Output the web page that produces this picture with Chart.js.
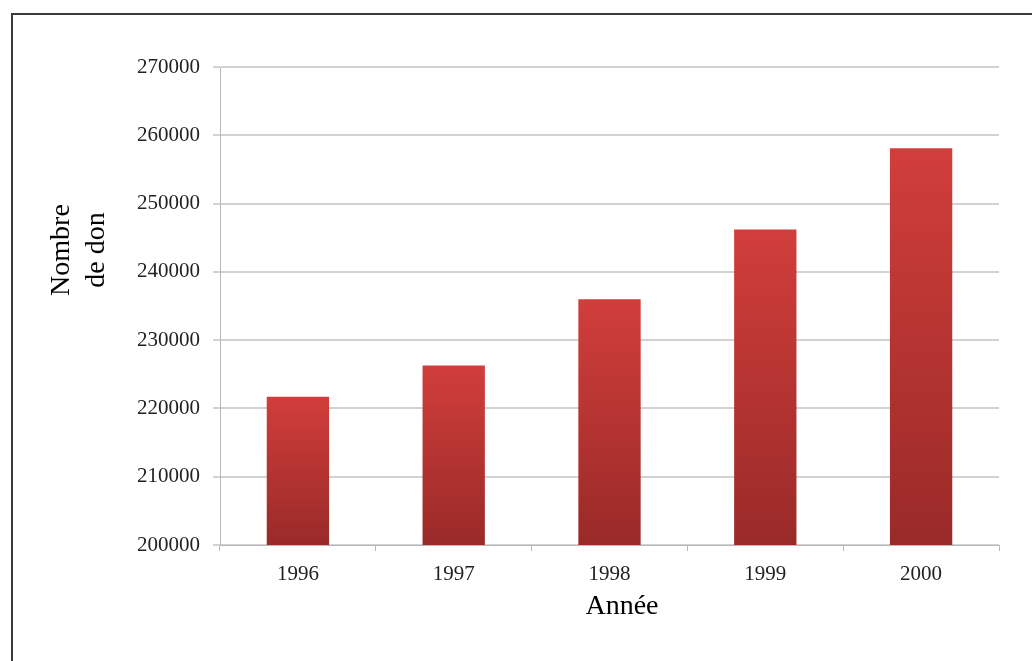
<!DOCTYPE html>
<html>
<head>
<meta charset="utf-8">
<script src="https://cdn.jsdelivr.net/npm/chart.js@4"></script>
<style>
  html, body { margin: 0; padding: 0; background: #fff; }
  #wrap { position: relative; width: 1032px; height: 661px; overflow: hidden; }
  #frame { position: absolute; left: 11px; top: 13px; width: 1100px; height: 700px;
           border-left: 2px solid #3a3a3a; border-top: 2px solid #3a3a3a; }
  canvas { position: absolute; left: 0; top: 0; }
</style>
</head>
<body>
<div id="wrap">
  <div id="frame"></div>
  <canvas id="chart" width="1032" height="661"></canvas>
</div>
<script>
const years = ['1996', '1997', '1998', '1999', '2000'];
const dons = [221700, 226300, 236000, 246200, 258100];
const yMin = 200000;
const yMax = 270000;
const yStep = 10000;
const yTitle = ['Nombre', 'de don'];
const xTitle = 'Année';

// degrade vertical propre a chaque barre
function barGradient(ctx) {
    const chart = ctx.chart;
    const y = chart.scales.y;
    if (!y || !chart.chartArea || ctx.raw === undefined) return '#c23836';
    const top = y.getPixelForValue(ctx.raw);
    const bottom = y.getPixelForValue(yMin);
    if (!isFinite(top) || !isFinite(bottom) || top === bottom) return '#c23836';
    const g = chart.ctx.createLinearGradient(0, top, 0, bottom);
    g.addColorStop(0, '#d13e3b');
    g.addColorStop(1, '#992a28');
    return g;
}

// titres des axes, places comme dans l'original (pas tout a fait centres)
const axisTitles = {
    id: 'axisTitles',
    afterDraw(chart) {
        const c = chart.ctx;
        c.save();
        c.fillStyle = '#000';
        c.font = '28px "Liberation Serif"';
        c.textAlign = 'center';
        c.textBaseline = 'middle';
        c.fillText(xTitle, 622, 607);
        c.translate(69, 250);
        c.rotate(-Math.PI / 2);
        c.textBaseline = 'alphabetic';
        yTitle.forEach((line, i) => c.fillText(line, 0, i * 35));
        c.restore();
    }
};

const config = {
    type: 'bar',
    data: {
        labels: years,
        datasets: [{
            data: dons,
            backgroundColor: barGradient,
            borderWidth: 0,
            barPercentage: 0.4,
            categoryPercentage: 1
        }]
    },
    options: {
        responsive: false,
        animation: false,
        layout: { padding: { left: 0, right: 33, top: 67, bottom: 0 } },
        plugins: {
            legend: { display: false },
            tooltip: { enabled: false }
        },
        scales: {
            x: {
                offset: true,
                grid: {
                    offset: true,
                    drawOnChartArea: false,
                    color: '#b8b8b8',
                    tickLength: 6
                },
                border: { color: '#b8b8b8', width: 1 },
                ticks: {
                    color: '#222',
                    padding: 11,
                    font: { family: 'Liberation Serif', size: 21 }
                },
                title: { display: false },
                afterFit: (scale) => { scale.height = 116; }
            },
            y: {
                min: yMin,
                max: yMax,
                grid: {
                    color: '#d2d2d2',
                    lineWidth: 2,
                    tickLength: 7
                },
                border: { color: '#b8b8b8', width: 1 },
                ticks: {
                    stepSize: yStep,
                    color: '#222',
                    padding: 13,
                    font: { family: 'Liberation Serif', size: 21 },
                    callback: (v) => String(v)
                },
                title: { display: false },
                afterFit: (scale) => { scale.width = 220; }
            }
        }
    },
    plugins: [axisTitles]
};

new Chart(document.getElementById('chart'), config);
</script>
</body>
</html>
